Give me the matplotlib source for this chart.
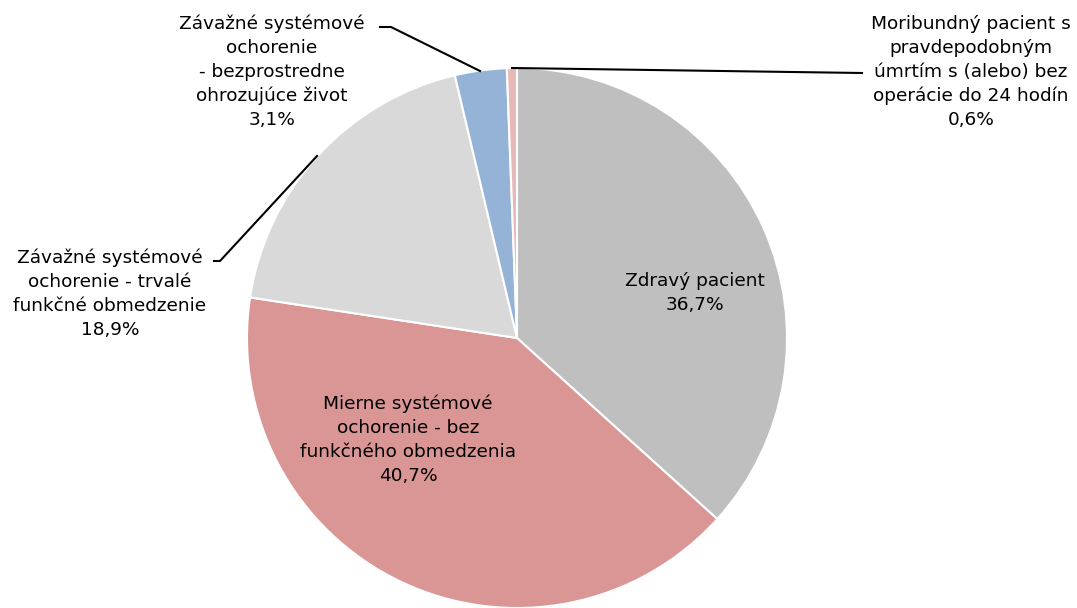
import matplotlib.pyplot as plt

# údaje z grafu
labels = ['Zdravý pacient',
          'Mierne systémové\nochorenie - bez\nfunkčného obmedzenia',
          'Závažné systémové\nochorenie - trvalé\nfunkčné obmedzenie',
          'Závažné systémové\nochorenie\n- bezprostredne\nohrozujúce život',
          'Moribundný pacient s\npravdepodobným\númrtím s (alebo) bez\noperácie do 24 hodín']
values = [36.7, 40.7, 18.9, 3.1, 0.6]
colors = ['#bfbfbf', '#d99694', '#d9d9d9', '#95b3d7', '#e6b9b8']

W, H = 1077, 608
cx, cy, R = 517, 338, 270


def px(x, y):
    # pixel -> dátové súradnice
    return (x - cx) / R, (cy - y) / R


fig = plt.figure(figsize=(W / 100, H / 100), dpi=100)
ax = fig.add_axes([0, 0, 1, 1])
ax.pie(values, colors=colors, startangle=90, counterclock=False, radius=1,
       wedgeprops=dict(edgecolor='white', linewidth=1.5))
ax.set_xlim(-cx / R, (W - cx) / R)
ax.set_ylim(-(H - cy) / R, cy / R)
ax.set_aspect('equal')
ax.axis('off')

fs = 13.3
txt = [l + '\n' + ('%.1f%%' % v).replace('.', ',') for l, v in zip(labels, values)]
pos = [(695, 293), (408, 440), (110, 294), (272, 72), (971, 72)]
for t, (x, y) in zip(txt, pos):
    ax.text(*px(x, y), t, ha='center', va='center', fontsize=fs,
            linespacing=1.42, color='black', family='DejaVu Sans')

# spojnice
lines = [[(380, 27), (391, 27), (480, 71)],
         [(512, 68), (862, 73)],
         [(214, 261), (220, 261), (317, 156)]]
for ln in lines:
    xs, ys = zip(*[px(a, b) for a, b in ln])
    ax.plot(xs, ys, color='black', lw=1.5)

fig.savefig('out.png', dpi=100)
